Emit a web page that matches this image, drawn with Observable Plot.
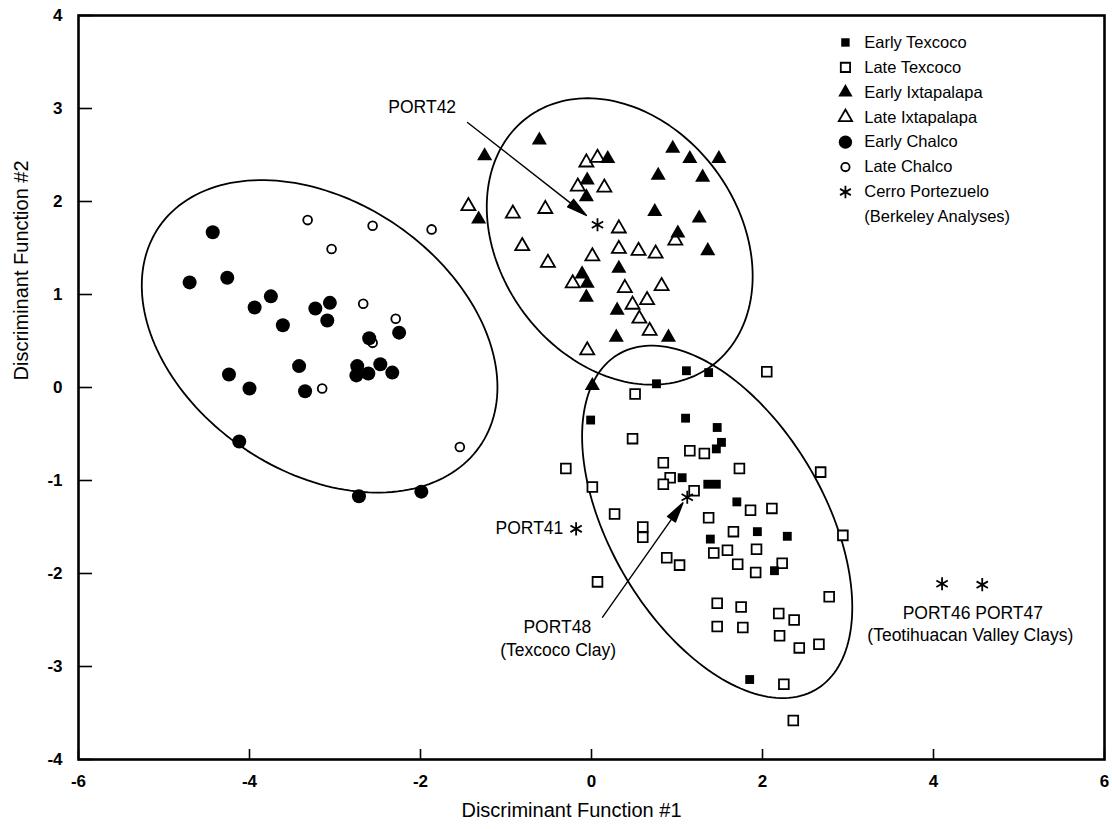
<!DOCTYPE html>
<html><head><meta charset="utf-8">
<script src="https://cdn.jsdelivr.net/npm/d3@7"></script>
<script src="https://cdn.jsdelivr.net/npm/@observablehq/plot@0.6"></script>
<style>
body{margin:0;background:#fff;}
#chart svg{font-family:"Liberation Sans", Arial, Helvetica, sans-serif;}
</style>
</head><body><div id="chart"></div>
<script>
// ---------- data ----------
const earlyTexcoco = [[1.11,0.18],[1.37,0.16],[0.76,0.04],[-0.01,-0.35],[1.10,-0.33],[1.47,-0.43],[1.52,-0.59],[1.46,-0.66],[1.06,-0.97],[1.36,-1.04],[1.46,-1.04],[1.70,-1.23],[1.94,-1.55],[2.29,-1.60],[1.39,-1.63],[2.14,-1.97],[1.85,-3.14]];
const lateTexcoco = [[2.05,0.17],[0.51,-0.07],[0.48,-0.55],[-0.30,-0.87],[0.01,-1.07],[1.15,-0.68],[1.32,-0.71],[0.84,-0.81],[1.73,-0.87],[0.92,-0.97],[0.84,-1.04],[1.20,-1.11],[2.68,-0.91],[0.27,-1.36],[1.37,-1.40],[1.86,-1.32],[2.11,-1.30],[0.60,-1.50],[0.60,-1.61],[1.66,-1.55],[2.94,-1.59],[1.93,-1.74],[1.59,-1.75],[1.43,-1.78],[0.88,-1.83],[1.03,-1.91],[1.71,-1.90],[1.92,-1.99],[2.23,-1.89],[0.07,-2.09],[2.78,-2.25],[1.47,-2.32],[1.75,-2.36],[2.19,-2.43],[2.37,-2.50],[1.47,-2.57],[1.77,-2.58],[2.20,-2.67],[2.43,-2.80],[2.66,-2.76],[2.25,-3.19],[2.36,-3.58]];
const earlyIxtapalapa = [[-0.61,2.66],[-1.25,2.49],[0.19,2.46],[0.95,2.57],[1.15,2.46],[1.49,2.46],[0.78,2.28],[1.30,2.26],[-0.05,2.23],[-0.06,2.05],[-1.32,1.81],[0.74,1.89],[1.26,1.82],[1.01,1.66],[1.36,1.47],[-0.11,1.22],[-0.05,1.12],[-0.06,0.97],[0.32,1.28],[0.30,0.83],[0.29,0.54],[0.90,0.54],[0.01,0.02]];
const lateIxtapalapa = [[-0.06,2.42],[0.07,2.47],[-0.16,2.16],[0.15,2.15],[-1.44,1.95],[-0.92,1.87],[-0.54,1.92],[0.32,1.71],[-0.81,1.52],[-0.51,1.34],[0.01,1.41],[0.32,1.49],[0.55,1.47],[0.75,1.44],[0.98,1.58],[-0.22,1.12],[0.39,1.07],[0.82,1.09],[0.48,0.89],[0.65,0.94],[0.56,0.74],[0.68,0.61],[-0.05,0.40]];
const earlyChalco = [[-4.70,1.13],[-4.43,1.67],[-4.26,1.18],[-3.94,0.86],[-3.75,0.98],[-3.61,0.67],[-3.23,0.85],[-3.06,0.91],[-3.09,0.72],[-2.60,0.53],[-2.25,0.59],[-4.24,0.14],[-4.00,-0.01],[-3.42,0.23],[-3.35,-0.04],[-2.74,0.23],[-2.75,0.13],[-2.61,0.15],[-2.47,0.25],[-2.33,0.16],[-4.12,-0.58],[-2.72,-1.17],[-1.99,-1.12]];
const lateChalco = [[-3.32,1.80],[-2.56,1.74],[-3.04,1.49],[-1.87,1.70],[-2.67,0.90],[-2.29,0.74],[-2.56,0.48],[-3.15,-0.01],[-1.54,-0.64]];
const cerroPortezuelo = [[0.07,1.75],[-0.18,-1.52],[1.12,-1.18],[4.10,-2.11],[4.57,-2.12]];

// ellipses: x = cx + w cos t, y = cy + h cos(t - phi)
const ellipseNames = ["Chalco","Ixtapalapa","Texcoco"];
const ellipseCX = [-3.18, 0.33, 1.47];
const ellipseCY = [0.55, 1.57, -1.445];
const ellipseW = [2.08, 1.555, 1.58];
const ellipseH = [1.68, 1.54, 1.895];
const ellipsePhi = [109, 104, 119];

const xTicks = [-6,-4,-2,0,2,4,6];
const yTicks = [-4,-3,-2,-1,0,1,2,3,4];
const legendLabels = ["Early Texcoco","Late Texcoco","Early Ixtapalapa","Late Ixtapalapa","Early Chalco","Late Chalco","Cerro Portezuelo","(Berkeley Analyses)"];

// annotations
const noteText = ["PORT42","PORT41","PORT48","(Texcoco Clay)","PORT46 PORT47","(Teotihuacan Valley Clays)"];
const noteX = [-1.98,-0.33,-0.40,-0.39,4.46,4.43];
const noteY = [3.01,-1.52,-2.58,-2.83,-2.43,-2.67];
const noteAnchor = ["middle","end","middle","middle","middle","middle"];
const arrowFrom = [[-1.45,2.85],[0.13,-2.47]];
const arrowTo = [[-0.06,1.85],[1.07,-1.24]];

// ---------- layout / style ----------
const W = 1112, H = 829, ML = 78, MR = 8, MT = 15, MB = 70;
const FONT = "\"Liberation Sans\", Arial, Helvetica, sans-serif";

const styles = {
  "Early Texcoco":   {symbol:"square",   fill:"black", stroke:"none",  r:5.0, strokeWidth:0},
  "Late Texcoco":    {symbol:"square",   fill:"white", stroke:"black", r:5.5, strokeWidth:1.8},
  "Early Ixtapalapa":{symbol:"triangle", fill:"black", stroke:"none",  r:5.6, strokeWidth:0},
  "Late Ixtapalapa": {symbol:"triangle", fill:"white", stroke:"black", r:5.2, strokeWidth:1.8},
  "Early Chalco":    {symbol:"circle",   fill:"black", stroke:"none",  r:7.0, strokeWidth:0},
  "Late Chalco":     {symbol:"circle",   fill:"white", stroke:"black", r:4.4, strokeWidth:1.8},
  "Cerro Portezuelo":{symbol:"asterisk", fill:"none",  stroke:"black", r:6.2, strokeWidth:1.8}
};
const series = [
  ["Late Texcoco", lateTexcoco],
  ["Early Texcoco", earlyTexcoco],
  ["Late Ixtapalapa", lateIxtapalapa],
  ["Early Ixtapalapa", earlyIxtapalapa],
  ["Late Chalco", lateChalco],
  ["Early Chalco", earlyChalco],
  ["Cerro Portezuelo", cerroPortezuelo]
];

// ellipse outlines
const ellipsePts = [];
ellipseNames.forEach((name, i) => {
  const phi = ellipsePhi[i] * Math.PI / 180;
  for (let k = 0; k <= 180; k++) {
    const t = k / 180 * 2 * Math.PI;
    ellipsePts.push({name, x: ellipseCX[i] + ellipseW[i] * Math.cos(t), y: ellipseCY[i] + ellipseH[i] * Math.cos(t - phi)});
  }
});

const notes = noteText.map((t, i) => ({t, x: noteX[i], y: noteY[i], a: noteAnchor[i]}));

// legend rows in data coordinates
const legendSymX = 2.97, legendTextX = 3.19, legendTopY = 3.71, legendStep = 0.268;
const legendRows = legendLabels.map((label, i) => ({label, i, x: legendSymX, tx: legendTextX, y: legendTopY - i * legendStep}));

// arrows through the scales
const sx = Plot.scale({x: {domain: [-6, 6], range: [ML, W - MR]}});
const sy = Plot.scale({y: {domain: [-4, 4], range: [H - MB, MT]}});
const arrowHead = {
  draw(ctx, l) {
    const hl = 20, hw = 4.8;
    ctx.moveTo(0, 0); ctx.lineTo(0, -l + hl - 2);
    ctx.moveTo(0, -l); ctx.lineTo(-hw, -l + hl); ctx.lineTo(hw, -l + hl); ctx.closePath();
  }
};
const arrowMarks = arrowFrom.map((f, i) => {
  const to = arrowTo[i];
  const dx = sx.apply(to[0]) - sx.apply(f[0]);
  const dy = sy.apply(to[1]) - sy.apply(f[1]);
  const len = Math.hypot(dx, dy);
  const rot = Math.atan2(dx, -dy) * 180 / Math.PI;
  return Plot.vector([{x: f[0], y: f[1]}], {x: "x", y: "y", length: len, rotate: rot, anchor: "start",
    shape: arrowHead, stroke: "black", fill: "black", strokeWidth: 1.4});
});

const fmt = d => (d < 0 ? "-" + Math.abs(d) : String(d));
const plotW = W - ML - MR, plotH = H - MT - MB;

const noteMarks = ["middle", "end"].map(a =>
  Plot.text(notes.filter(n => n.a === a), {x: "x", y: "y", text: "t", textAnchor: a, fontSize: 17.5, fill: "black"}));

const marks = [
  Plot.line(ellipsePts, {x: "x", y: "y", z: "name", stroke: "black", strokeWidth: 1.8}),
  ...series.map(([name, arr]) => {
    const s = styles[name];
    return Plot.dot(arr, {x: d => d[0], y: d => d[1], symbol: s.symbol, fill: s.fill, stroke: s.stroke, r: s.r, strokeWidth: s.strokeWidth});
  }),
  ...arrowMarks,
  ...noteMarks,
  // legend
  ...legendRows.filter(r => r.i < 7).map(r => {
    const s = styles[r.label];
    return Plot.dot([r], {x: "x", y: "y", symbol: s.symbol, fill: s.fill, stroke: s.stroke, r: s.r * 0.95, strokeWidth: s.strokeWidth});
  }),
  Plot.text(legendRows, {x: "tx", y: "y", text: "label", textAnchor: "start", fontSize: 16.5, fill: "black"}),
  // inward ticks
  Plot.tickX(xTicks, {x: d => d, insetTop: plotH - 10, stroke: "black", strokeWidth: 1.6}),
  Plot.tickY(yTicks, {y: d => d, insetRight: plotW - 14, stroke: "black", strokeWidth: 1.6}),
  Plot.frame({stroke: "black", strokeWidth: 2.6}),
  Plot.axisX({ticks: xTicks, tickSize: 0, tickPadding: 15, tickFormat: fmt, fontSize: 17, fontWeight: "bold", label: null}),
  Plot.axisY({ticks: yTicks, tickSize: 0, tickPadding: 16, tickFormat: fmt, fontSize: 17, fontWeight: "bold", label: null}),
  Plot.text(["Discriminant Function #1"], {frameAnchor: "bottom", dy: 57, dx: -20, fontSize: 20, fill: "black"}),
  Plot.text(["Discriminant Function #2"], {frameAnchor: "left", dx: -57, dy: -7, rotate: -90, fontSize: 20, fill: "black"})
];

const chart = Plot.plot({
  width: W, height: H,
  marginLeft: ML, marginRight: MR, marginTop: MT, marginBottom: MB,
  x: {domain: [-6, 6]},
  y: {domain: [-4, 4]},
  style: {fontFamily: FONT, background: "white", color: "black", overflow: "visible"},
  marks
});
document.getElementById("chart").appendChild(chart);
</script>
</body></html>
